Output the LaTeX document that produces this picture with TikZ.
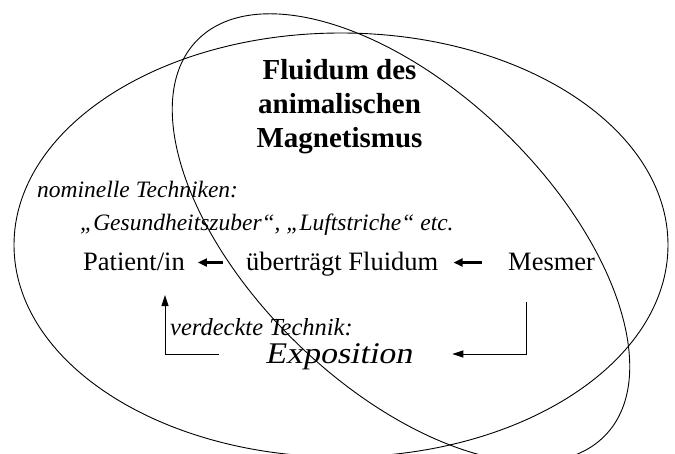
\documentclass[tikz,border=0pt]{standalone}
\usepackage{fontspec}
\setmainfont{Liberation Serif}
\newfontfamily\expofont[FakeSlant=0.2,FakeStretch=1.13]{Liberation Serif}
\usetikzlibrary{arrows.meta}
\begin{document}
\begin{tikzpicture}[x=1pt,y=-1pt,
  txt/.style={inner sep=0pt, anchor=base west},
  rowtxt/.style={txt, font=\fontsize{26.5}{30}\selectfont, text height=19pt, text depth=4pt},
  ital/.style={txt, font=\itshape\fontsize{23.5}{28}\selectfont},
  oval/.style={draw, line width=0.9pt},
  thickarr/.style={line width=2.2pt, -{Triangle[length=9pt,width=8pt]}},
  elbowarr/.style={line width=0.9pt, -{Triangle[length=11pt,width=7pt]}},
]
\useasboundingbox (0,0) rectangle (675,453);
\clip (0,0) rectangle (675,453);

% ovals
\draw[oval] (341,245) ellipse [x radius=327, y radius=212];
\draw[oval, rotate around={-44:(401,238)}] (401,238) ellipse [x radius=284, y radius=148];

% texts
\node[inner sep=0pt, anchor=north, align=center, font=\bfseries\fontsize{29}{34}\selectfont] (title) at (339.5,59) {Fluidum des\\animalischen\\Magnetismus};
\node[ital] (nom) at (37,197) {nominelle Techniken:};
\node[ital] (ges) at (80,230) {„Gesundheitszuber“, „Luftstriche“ etc.};
\node[rowtxt] (pat) at (83,270) {Patient/in};
\node[rowtxt] (fl) at (246,270) {überträgt Fluidum};
\node[rowtxt] (mes) at (508,270) {Mesmer};
\node[txt, font=\itshape\fontsize{24.5}{28}\selectfont] (ver) at (170,335) {verdeckte Technik:};
\node[txt, font=\expofont\fontsize{30}{34}\selectfont, text height=22pt, text depth=4pt] (expo) at (265,363) {Exposition};

% connectors
\coordinate (ra) at (526,302);
\coordinate (la) at (165,295);
\draw[thickarr, shorten <=23pt, shorten >=13pt] (fl.west) -- (pat.east);
\draw[thickarr, shorten <=26pt, shorten >=15pt] (mes.west) -- (fl.east);
\draw[elbowarr, shorten >=40pt] (ra) |- (expo.east);
\draw[elbowarr, shorten <=46pt] (expo.west) -| (la);
\end{tikzpicture}
\end{document}
